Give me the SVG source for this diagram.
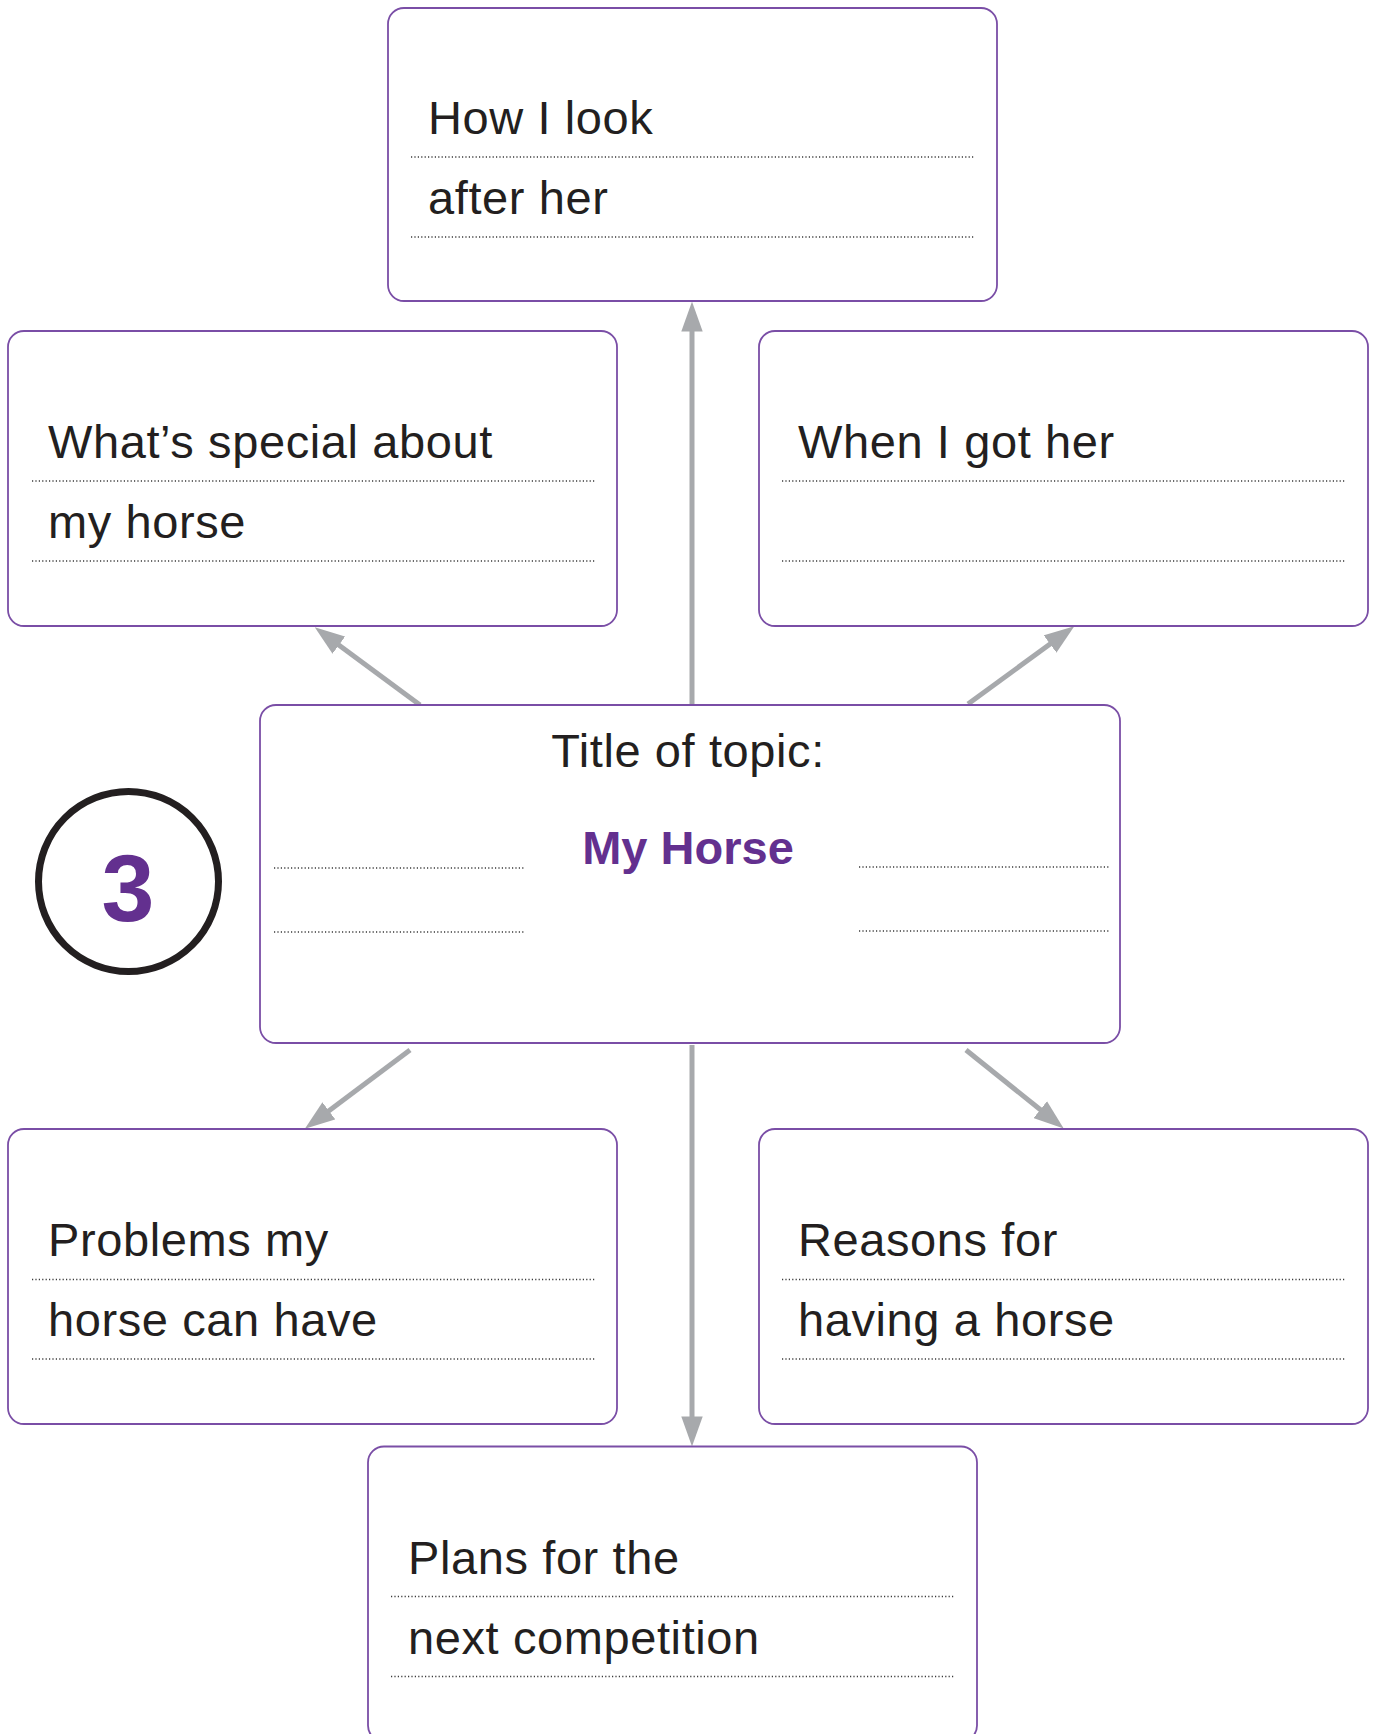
<svg xmlns="http://www.w3.org/2000/svg" width="1378" height="1734" viewBox="0 0 1378 1734">
<style>
.box{fill:#fff;stroke:#7a4ea6;stroke-width:1.8}
.t{font-family:"Liberation Sans",Arial,sans-serif;font-size:47px;fill:#231f20;letter-spacing:0.6px}
.dot{stroke:#3a3a3a;stroke-width:1.3;stroke-dasharray:1.2 2.2;fill:none}
.con{stroke:#a7a9ac;stroke-width:5;fill:none;marker-end:url(#ah)}
</style>
<defs>
<marker id="ah" markerUnits="userSpaceOnUse" markerWidth="30" markerHeight="22" viewBox="0 0 28 20" refX="8" refY="10" orient="auto">
<path d="M0,0 L28,10 L0,20 z" fill="#a7a9ac"/>
</marker>
</defs>
<rect width="1378" height="1734" fill="#fff"/>
<g id="connectors">
<line class="con" x1="692" y1="704" x2="692" y2="323"/>
<line class="con" x1="692" y1="1045" x2="692" y2="1425"/>
<line class="con" x1="420" y1="705" x2="332" y2="640"/>
<line class="con" x1="968" y1="704" x2="1057" y2="639"/>
<line class="con" x1="410" y1="1050" x2="322" y2="1116"/>
<line class="con" x1="966" y1="1050" x2="1047" y2="1115"/>
</g>
<g id="top">
<rect class="box" x="388" y="8" width="609" height="293" rx="16"/>
<text class="t" x="428" y="134">How I look</text>
<text class="t" x="428" y="214">after her</text>
<line class="dot" x1="411" y1="157" x2="974" y2="157"/>
<line class="dot" x1="411" y1="237" x2="974" y2="237"/>
</g>
<g id="special">
<rect class="box" x="8" y="331" width="609" height="295" rx="16"/>
<text class="t" x="48" y="458">What’s special about</text>
<text class="t" x="48" y="538">my horse</text>
<line class="dot" x1="32" y1="481" x2="595" y2="481"/>
<line class="dot" x1="32" y1="561" x2="595" y2="561"/>
</g>
<g id="when">
<rect class="box" x="759" y="331" width="609" height="295" rx="16"/>
<text class="t" x="798" y="458">When I got her</text>
<line class="dot" x1="782" y1="481" x2="1345" y2="481"/>
<line class="dot" x1="782" y1="561" x2="1345" y2="561"/>
</g>
<g id="center">
<rect class="box" x="260" y="705" width="860" height="338" rx="16"/>
<text class="t" x="688" y="767" text-anchor="middle">Title of topic:</text>
<text class="t" x="688" y="864" text-anchor="middle" style="font-weight:bold;fill:#63308f;letter-spacing:0">My Horse</text>
<line class="dot" x1="274" y1="868" x2="524" y2="868"/>
<line class="dot" x1="274" y1="932" x2="524" y2="932"/>
<line class="dot" x1="859" y1="867" x2="1109" y2="867"/>
<line class="dot" x1="859" y1="931" x2="1109" y2="931"/>
</g>
<g id="badge">
<circle cx="128.5" cy="881.5" r="90" fill="#fff" stroke="#231f20" stroke-width="7"/>
<text x="128" y="921" text-anchor="middle" style="font-family:'Liberation Sans',Arial,sans-serif;font-weight:bold;font-size:95px;fill:#63308f">3</text>
</g>
<g id="problems">
<rect class="box" x="8" y="1129" width="609" height="295" rx="16"/>
<text class="t" x="48" y="1256">Problems my</text>
<text class="t" x="48" y="1336">horse can have</text>
<line class="dot" x1="32" y1="1279.5" x2="595" y2="1279.5"/>
<line class="dot" x1="32" y1="1359" x2="595" y2="1359"/>
</g>
<g id="reasons">
<rect class="box" x="759" y="1129" width="609" height="295" rx="16"/>
<text class="t" x="798" y="1256">Reasons for</text>
<text class="t" x="798" y="1336">having a horse</text>
<line class="dot" x1="782" y1="1279.5" x2="1345" y2="1279.5"/>
<line class="dot" x1="782" y1="1359" x2="1345" y2="1359"/>
</g>
<g id="plans">
<rect class="box" x="368" y="1446.5" width="609" height="295" rx="16"/>
<text class="t" x="408" y="1574">Plans for the</text>
<text class="t" x="408" y="1654">next competition</text>
<line class="dot" x1="391" y1="1596.5" x2="954" y2="1596.5"/>
<line class="dot" x1="391" y1="1676.5" x2="954" y2="1676.5"/>
</g>
</svg>
